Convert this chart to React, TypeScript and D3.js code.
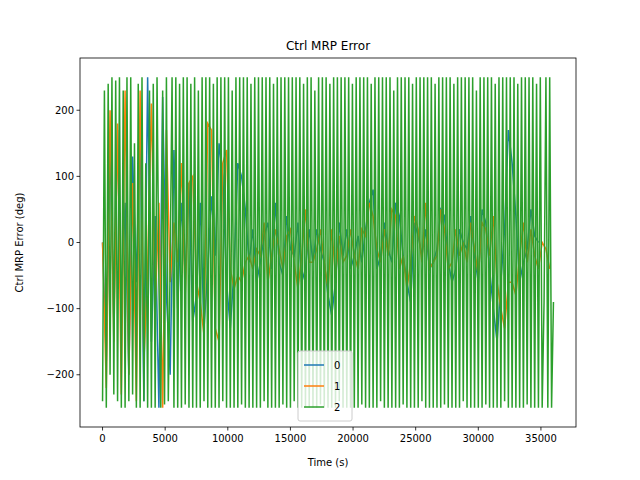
import React from "react";
import * as d3 from "d3";

const STEP = 300;
const STEP2 = 150;
const series0 = [0,-180,150,-120,170,-90,60,-200,130,-60,180,-240,250,-150,40,-250,220,-80,-200,140,-100,60,-50,90,-120,-80,60,-130,-40,70,-20,150,100,-60,-130,-40,120,100,50,-30,20,-60,-30,10,30,-40,60,-30,-50,40,-10,-20,30,-60,-40,20,-30,20,-10,-30,-80,-110,-60,30,-20,20,-40,-20,10,-30,20,60,80,-40,-20,30,-10,-30,60,40,-20,-60,-90,30,10,-20,20,-40,-30,-10,50,40,-30,-60,-40,20,0,-10,40,-20,-60,50,30,-40,-100,-150,-60,20,170,120,40,-60,-30,-10,50,10,0];
const series1 = [0,-220,200,-150,180,-230,230,-200,90,-240,230,-180,-40,210,-100,60,-250,170,-60,30,-30,120,-80,90,100,-60,-90,-140,180,170,-130,-150,120,140,-40,-70,-50,-60,-30,-20,-40,-10,-20,30,-60,-20,20,-10,-40,10,20,-30,-70,-20,50,-30,-30,-10,20,-30,-70,20,-50,10,-30,-20,20,-20,-40,20,10,60,40,-10,-30,20,-20,50,40,-40,-20,-70,-30,40,20,-30,60,-40,-30,-20,50,20,-40,-30,20,-20,0,-30,30,-10,-50,30,20,-20,40,-60,-100,-130,-60,-60,-80,-20,30,-30,20,-20,-40,0,-10,-40];
const series2 = [
-240,230,-250,240,-200,250,-230,245,-240,250,-250,230,-250,250,-240,250,-230,150,-250,240,
-250,250,-240,120,-250,230,-250,240,-250,250,-60,-250,230,-245,250,-240,-30,250,-250,250,
-250,240,-250,250,-245,250,-250,240,-250,250,-250,230,-250,250,-240,250,-250,250,-250,240,
-250,250,-250,250,-240,250,-250,250,-250,230,-250,250,-250,250,-245,250,-250,250,-250,240,
-250,250,-250,250,-250,250,-240,250,-250,250,-250,240,-250,250,-250,250,-245,250,-250,250,
-250,250,-240,250,-250,250,-250,240,-250,250,-250,250,-250,230,-250,250,-245,250,-250,250,
-250,240,-250,250,-250,250,-240,250,-250,250,-250,250,-250,240,-250,250,-250,250,-245,250,
-250,250,-250,240,-250,250,-250,250,-240,250,-250,250,-250,250,-250,230,-250,250,-250,250,
-245,250,-250,250,-250,240,-250,250,-250,250,-240,250,-250,250,-250,250,-250,240,-250,250,
-250,250,-245,250,-250,250,-250,240,-250,250,-250,250,-240,250,-250,250,-250,250,-250,230,
-250,250,-250,250,-245,250,-250,250,-250,240,-250,250,-250,250,-240,250,-250,250,-250,250,
-250,240,-250,250,-250,250,-245,250,-250,250,-250,240,-250,250,-250,-90,250,-250,250,-250,-90];
const seriesList = [series0, series1, series2];
const steps = [STEP, STEP, STEP2];
const names = ["0", "1", "2"];
const colors = ["#1f77b4", "#ff7f0e", "#2ca02c"];
const xTicks = [0,5000,10000,15000,20000,25000,30000,35000];
const yTicks = [-200,-100,0,100,200];

export default function App() {
  const W = 640, H = 480, L = 80, R = 576, T = 58, B = 427;
  const x = d3.scaleLinear().domain([-1800, 37800]).range([L, R]);
  const y = d3.scaleLinear().domain([-279, 279]).range([B, T]);
  const f = "DejaVu Sans, sans-serif";
  return (
    <svg width={W} height={H} style={{ position: "absolute", left: 0, top: 0 }} fontFamily={f}>
      <rect width={W} height={H} fill="#fff" />
      <defs><clipPath id="c"><rect x={L} y={T} width={R - L} height={B - T} /></clipPath></defs>
      <g clipPath="url(#c)">
        {seriesList.map((s, i) => {
          const line = d3.line<number>().x((_, j) => x(j * steps[i])).y(d => y(d));
          return <path key={i} d={line(s)!} fill="none" stroke={colors[i]} strokeWidth={1.5} />;
        })}
      </g>
      <rect x={L} y={T} width={R - L} height={B - T} fill="none" stroke="#000" strokeWidth={0.8} />
      {xTicks.map(t => (
        <g key={t}>
          <line x1={x(t)} x2={x(t)} y1={B} y2={B + 3.5} stroke="#000" strokeWidth={0.8} />
          <text x={x(t)} y={B + 15} fontSize={10} textAnchor="middle">{t}</text>
        </g>
      ))}
      {yTicks.map(t => (
        <g key={t}>
          <line x1={L - 3.5} x2={L} y1={y(t)} y2={y(t)} stroke="#000" strokeWidth={0.8} />
          <text x={L - 6} y={y(t) + 3.5} fontSize={10} textAnchor="end">{t < 0 ? "\u2212" + -t : t}</text>
        </g>
      ))}
      <text x={(L + R) / 2} y={466} fontSize={10} textAnchor="middle">Time (s)</text>
      <text transform={`translate(23,${(T + B) / 2}) rotate(-90)`} fontSize={10} textAnchor="middle">Ctrl MRP Error (deg)</text>
      <text x={(L + R) / 2} y={50} fontSize={12} textAnchor="middle">Ctrl MRP Error</text>
      <g transform="translate(298,351)">
        <rect width={54} height={70} rx={2} fill="#fff" fillOpacity={0.8} stroke="#ccc" />
        {names.map((n, i) => (
          <g key={n} transform={`translate(0,${14 + i * 21})`}>
            <line x1={6} x2={26} stroke={colors[i]} strokeWidth={1.5} />
            <text x={36} y={4} fontSize={10}>{n}</text>
          </g>
        ))}
      </g>
    </svg>
  );
}
